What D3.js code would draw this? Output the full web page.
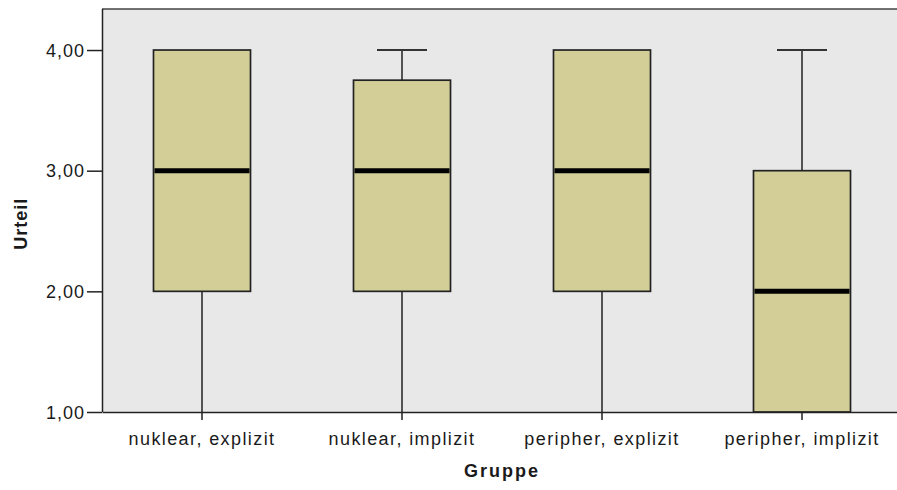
<!DOCTYPE html>
<html>
<head>
<meta charset="utf-8">
<script src="https://cdn.jsdelivr.net/npm/d3@7"></script>
<style>
  body { margin: 0; background: #fff; }
  svg { font-family: "Liberation Sans", Arial, sans-serif; }
</style>
</head>
<body>
<div id="chart"></div>
<script>
// data
var groups = ['nuklear, explizit', 'nuklear, implizit', 'peripher, explizit', 'peripher, implizit']
var mins = [1, 1, 1, 1]
var q1s = [2, 2, 2, 1]
var medians = [3, 3, 3, 2]
var q3s = [4, 3.75, 4, 3]
var maxs = [4, 4, 4, 4]
var yTicks = [1, 2, 3, 4]

var margin = { top: 9, left: 102 }
var width = 800
var height = 403

var svg = d3
  .select('#chart')
  .append('svg')
  .attr('width', 897)
  .attr('height', 490)

var g = svg.append('g')
  .attr('transform', 'translate(' + margin.left + ',' + margin.top + ')')

var x = d3.scaleBand().domain(groups).range([0, width]).padding(0)
var y = d3.scaleLinear().domain([1, 4.34]).range([height, 0])

// background
g.append('rect')
  .attr('x', 0).attr('y', 0)
  .attr('width', width).attr('height', height)
  .attr('fill', '#e8e8e8')

var boxes = groups.map((d, i) => ({
  name: d, min: mins[i], q1: q1s[i], med: medians[i], q3: q3s[i], max: maxs[i]
}))

var boxW = 97
var capW = 50

var bx = g.selectAll('.box').data(boxes).enter().append('g')
  .attr('transform', d => 'translate(' + (x(d.name) + x.bandwidth() / 2) + ',0)')

// whiskers
bx.append('line')
  .attr('x1', 0).attr('x2', 0)
  .attr('y1', d => y(d.max)).attr('y2', d => y(d.q3))
  .attr('stroke', '#222').attr('stroke-width', 1.5)
bx.append('line')
  .attr('x1', 0).attr('x2', 0)
  .attr('y1', d => y(d.q1)).attr('y2', d => y(d.min))
  .attr('stroke', '#222').attr('stroke-width', 1.5)
bx.filter(d => d.max > d.q3).append('line')
  .attr('x1', -capW / 2).attr('x2', capW / 2)
  .attr('y1', d => y(d.max)).attr('y2', d => y(d.max))
  .attr('stroke', '#333').attr('stroke-width', 2)

bx.append('rect')
  .attr('x', -boxW / 2)
  .attr('width', boxW)
  .attr('y', d => y(d.q3))
  .attr('height', d => y(d.q1) - y(d.q3))
  .attr('fill', '#d3ce98')
  .attr('stroke', '#222')
  .attr('stroke-width', 1.7)

bx.append('line')
  .attr('x1', -boxW / 2 + 1).attr('x2', boxW / 2 - 1)
  .attr('y1', d => y(d.med)).attr('y2', d => y(d.med))
  .attr('stroke', '#000').attr('stroke-width', 5)

// frame: top
g.append('line').attr('x1', 0).attr('x2', width).attr('y1', 0).attr('y2', 0)
  .attr('stroke', '#444').attr('stroke-width', 1.5)

// y axis
var yAxis = g.append('g')
  .call(d3.axisLeft(y).tickValues(yTicks).tickSize(15).tickSizeOuter(0)
    .tickFormat(d => d3.format('.2f')(d).replace('.', ',')))
yAxis.select('.domain').attr('d', 'M0.5,0V' + height).attr('stroke', '#222').attr('stroke-width', 1.5)
yAxis.selectAll('.tick line').attr('stroke', '#222').attr('stroke-width', 1.5)
yAxis.selectAll('.tick text')
  .attr('font-size', '18px').attr('fill', '#1a1a1a').attr('x', -17).attr('dy', '0.35em')
  .attr('letter-spacing', '1px')
  .attr('font-family', '"Liberation Sans", Arial, sans-serif')

// x axis
var xAxis = g.append('g')
  .attr('transform', 'translate(0,' + height + ')')
  .call(d3.axisBottom(x).tickSize(8).tickSizeOuter(0))
xAxis.select('.domain').attr('stroke', '#222').attr('stroke-width', 1.5)
xAxis.selectAll('.tick line').attr('stroke', '#222').attr('stroke-width', 1.5)
xAxis.selectAll('.tick text')
  .attr('font-size', '18px').attr('fill', '#1a1a1a').attr('y', 20)
  .attr('letter-spacing', '1.4px')
  .attr('font-family', '"Liberation Sans", Arial, sans-serif')

// axis titles
svg.append('text')
  .attr('x', 502)
  .attr('y', 477)
  .attr('text-anchor', 'middle')
  .attr('font-size', '18px')
  .attr('font-weight', 'bold')
  .attr('letter-spacing', '2px')
  .attr('fill', '#1a1a1a')
  .text('Gruppe')

svg.append('text')
  .attr('transform', 'translate(27,' + (margin.top + y(2.56)) + ') rotate(-90)')
  .attr('text-anchor', 'middle')
  .attr('font-size', '18px')
  .attr('font-weight', 'bold')
  .attr('letter-spacing', '1px')
  .attr('fill', '#1a1a1a')
  .text('Urteil')
</script>
</body>
</html>
